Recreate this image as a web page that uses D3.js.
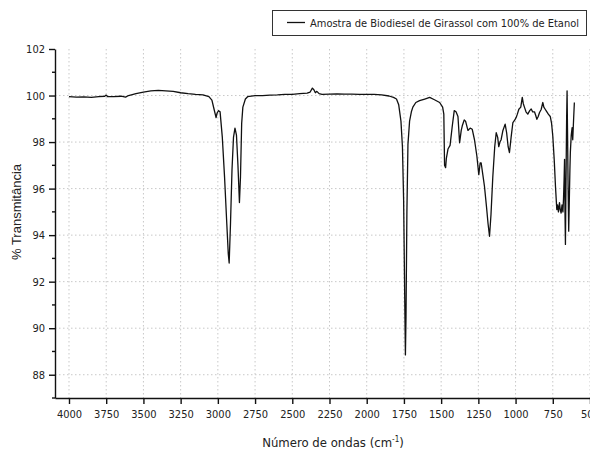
<!DOCTYPE html>
<meta charset="utf-8">
<style type="text/css">
body { margin: 0; background: #fff; }
text { font-family: "Liberation Sans Narrow", "DejaVu Sans Condensed", "Liberation Sans", sans-serif; fill: #222; }
.spec { fill: none; stroke: #111; stroke-width: 1.3; stroke-linejoin: round; }
.grid line { stroke: #c8c8c8; stroke-dasharray: 1.5,2.5; stroke-width: 1; }
.axis path, .axis line { stroke: #111; stroke-width: 1.4; }
.axis text { font-size: 11px; }
</style>
<body>
<script src="https://d3js.org/d3.v7.min.js"></script>
<script>

// tick labels
var xTicks = [4000, 3750, 3500, 3250, 3000, 2750, 2500, 2250, 2000, 1750, 1500, 1250, 1000, 750, 500];
var yTicks = [102, 100, 98, 96, 94, 92, 90, 88];
var yMinor = [101, 99, 97, 95, 93, 91, 89, 87];

var seriesName = "Amostra de Biodiesel de Girassol com 100% de Etanol";

// spectrum: wavenumber (cm-1) and % transmittance
var waveNumbers = [4000, 3950, 3900, 3850, 3800, 3760, 3750, 3740, 3700, 3650, 3620, 3600, 3550, 3500, 3450, 3400, 3350, 3300, 3250, 3200,
  3150, 3100, 3060, 3040, 3025, 3012, 3005, 2995, 2985, 2970, 2955, 2940, 2930, 2924, 2915, 2905, 2895, 2885, 2875, 2865,
  2855, 2848, 2840, 2832, 2815, 2800, 2750, 2700, 2650, 2600, 2550, 2500, 2450, 2400, 2380, 2365, 2355, 2345, 2335, 2320,
  2300, 2250, 2200, 2150, 2100, 2050, 2000, 1950, 1900, 1850, 1820, 1800, 1785, 1770, 1760, 1752, 1745, 1740, 1736, 1730,
  1723, 1712, 1700, 1690, 1670, 1645, 1610, 1577, 1545, 1510, 1490, 1482, 1477, 1470, 1465, 1454, 1440, 1425, 1412, 1400,
  1387, 1376, 1365, 1358, 1345, 1336, 1320, 1305, 1291, 1276, 1260, 1247, 1238, 1231, 1220, 1209, 1195, 1185, 1175, 1165,
  1153, 1140, 1130, 1120, 1113, 1105, 1097, 1085, 1070, 1060, 1050, 1041, 1030, 1018, 1005, 996, 988, 978, 965, 955,
  948, 940, 930, 918, 905, 895, 885, 873, 865, 857, 848, 839, 828, 817, 810, 800, 794, 780, 767, 758,
  750, 740, 732, 723, 718, 712, 705, 700, 694, 688, 682, 678, 674, 671, 668, 665, 661, 657, 654, 651,
  647, 643, 639, 635, 632, 626, 620, 616, 610, 605];
var transmittance = [99.95, 99.93, 99.94, 99.92, 99.95, 99.97, 100.02, 99.95, 99.95, 99.97, 99.93, 100.0, 100.08, 100.15, 100.2, 100.22, 100.2, 100.18, 100.12, 100.08,
  100.05, 100.03, 99.95, 99.8, 99.4, 99.05, 99.25, 99.35, 99.3, 98.2, 96.5, 94.5, 93.2, 92.8, 94.5, 96.8, 98.2, 98.6, 98.3, 97.0,
  95.4, 96.5, 98.8, 99.5, 99.85, 99.95, 100.0, 100.0, 100.02, 100.03, 100.05, 100.05, 100.08, 100.1, 100.15, 100.32, 100.25, 100.12, 100.18, 100.08,
  100.05, 100.06, 100.07, 100.06, 100.06, 100.05, 100.05, 100.05, 100.03, 99.98, 99.92, 99.85, 99.6, 98.9, 97.8, 95.5, 91.5, 88.85, 90.5, 95.0,
  97.9, 98.9, 99.3, 99.5, 99.7, 99.78, 99.85, 99.92, 99.82, 99.7, 99.5, 99.2, 97.0, 96.9, 97.3, 97.7, 97.86, 98.7, 99.35, 99.3,
  99.1, 97.97, 98.5, 98.7, 98.95, 98.9, 98.5, 98.6, 98.55, 98.1, 97.4, 96.6, 97.1, 97.1, 96.6, 96.1, 95.2, 94.5, 93.95, 94.9,
  96.5, 97.8, 98.4, 98.2, 97.8, 98.0, 98.1, 98.5, 98.77, 98.4, 97.8, 97.55, 98.2, 98.84, 98.95, 99.06, 99.2, 99.41, 99.5, 99.92,
  99.65, 99.49, 99.3, 99.2, 99.35, 99.42, 99.3, 99.3, 99.15, 98.98, 99.1, 99.27, 99.4, 99.7, 99.5, 99.4, 99.34, 99.2, 99.1, 98.8,
  98.26, 97.2, 96.1, 95.1, 95.3, 95.0, 95.4, 95.1, 94.95, 95.3, 95.0, 95.55, 96.4, 97.26, 95.0, 93.6, 96.5, 99.0, 100.2, 98.5,
  96.0, 94.17, 95.5, 96.8, 97.56, 98.3, 98.62, 98.1, 99.0, 99.7];

var W = 590, H = 452;
var margin = {top: 49, right: 0, bottom: 54, left: 55};
var width = W - margin.left - margin.right,
    height = H - margin.top - margin.bottom;

var svg = d3.select("body").append("svg")
    .attr("width", W)
    .attr("height", H);

var g = svg.append("g")
    .attr("transform", "translate(" + margin.left + "," + margin.top + ")");

var x = d3.scaleLinear().domain([4094, 500]).range([0, width]);
var y = d3.scaleLinear().domain([87, 102]).range([height, 0]);

// dotted grid
g.append("g").attr("class", "grid")
  .selectAll("line").data(xTicks.filter(function(d) { return d < 4094; }))
  .enter().append("line")
    .attr("x1", function(d) { return x(d); }).attr("x2", function(d) { return x(d); })
    .attr("y1", 0).attr("y2", height);
g.append("g").attr("class", "grid")
  .selectAll("line").data(yTicks.filter(function(d) { return d < 102; }))
  .enter().append("line")
    .attr("x1", 0).attr("x2", width)
    .attr("y1", function(d) { return y(d); }).attr("y2", function(d) { return y(d); });

var data = waveNumbers.map(function(w, i) { return {w: w, t: transmittance[i]}; });

var line = d3.line()
    .x(function(d) { return x(d.w); })
    .y(function(d) { return y(d.t); });

g.append("path")
    .datum(data)
    .attr("class", "spec")
    .attr("d", line);

// axes
g.append("g")
    .attr("class", "axis")
    .attr("transform", "translate(0," + height + ")")
    .call(d3.axisBottom(x).tickValues(xTicks).tickSize(6).tickSizeOuter(0).tickPadding(6).tickFormat(d3.format("d")));

var yAxis = g.append("g")
    .attr("class", "axis")
    .call(d3.axisLeft(y).tickValues(yTicks).tickSize(6).tickSizeOuter(0).tickPadding(4).tickFormat(d3.format("d")));

yAxis.selectAll(".minor").data(yMinor)
  .enter().append("line")
    .attr("class", "minor")
    .attr("x1", -3).attr("x2", 0)
    .attr("y1", function(d) { return y(d); }).attr("y2", function(d) { return y(d); })
    .attr("stroke", "#111").attr("stroke-width", 1.4);

// axis titles
svg.append("text")
    .attr("transform", "translate(21," + 212 + ") rotate(-90)")
    .attr("text-anchor", "middle")
    .style("font-family", "'Liberation Sans', sans-serif")
    .style("font-size", "13px")
    .text("% Transmitância");

var xt = svg.append("text")
    .attr("x", 333).attr("y", 447)
    .attr("text-anchor", "middle")
    .style("font-size", "13px")
    .text("Número de ondas (cm");
xt.append("tspan").attr("dy", -5).style("font-size", "8px").text("-1");
xt.append("tspan").attr("dy", 5).text(")");

// legend
var leg = svg.append("g");
leg.append("rect")
    .attr("x", 272.5).attr("y", 10.5).attr("width", 314).attr("height", 25)
    .attr("fill", "#fff").attr("stroke", "#333").attr("stroke-width", 1);
leg.append("line")
    .attr("x1", 287).attr("x2", 305).attr("y1", 22.5).attr("y2", 22.5)
    .attr("stroke", "#111").attr("stroke-width", 1.3);
leg.append("text")
    .attr("x", 310).attr("y", 26.5)
    .style("font-size", "11px")
    .text(seriesName);

</script>
</body>
